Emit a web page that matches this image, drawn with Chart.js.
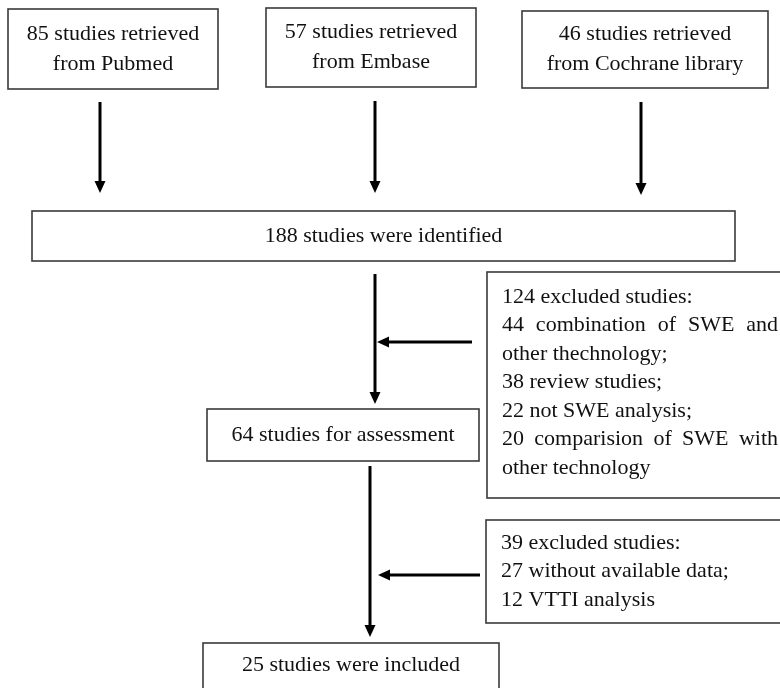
<!DOCTYPE html>
<html lang="en">
<head>
    <meta charset="UTF-8">
    <title>Study selection flow</title>
    <style>
        body { margin: 0; background: #fff; }
        #wrap { width: 780px; height: 688px; }
    </style>
    <script src="https://cdn.jsdelivr.net/npm/chart.js"></script>
</head>
<body>
    <div id="wrap"><canvas id="flow" width="780" height="688"></canvas></div>

    <script>
        // content of the flow diagram
        const sourceCounts = [85, 57, 46];
        const sourceNames = ['Pubmed', 'Embase', 'Cochrane library'];
        const identifiedCount = 188;
        const excluded1Total = 124;
        const excluded1Counts = [44, 38, 22, 20];
        const excluded1Reasons = ['combination of SWE and other thechnology', 'review studies', 'not SWE analysis', 'comparision of SWE with other technology'];
        const assessedCount = 64;
        const excluded2Total = 39;
        const excluded2Counts = [27, 12];
        const excluded2Reasons = ['without available data', 'VTTI analysis'];
        const includedCount = 25;

        // page layout (in canvas units, mapped through hidden linear scales)
        const layout = {
            sources: [[8, 9, 218, 89], [266, 8, 476, 87], [522, 11, 768, 88]],
            identified: [32, 211, 735, 261],
            assessed: [207, 409, 479, 461],
            excluded1: [487, 272, 800, 498],
            excluded2: [486, 520, 800, 623],
            included: [203, 643, 499, 720],
            arrows: [
                [100, 102, 100, 193], [375, 101, 375, 193], [641, 102, 641, 195],
                [375, 274, 375, 404], [472, 342, 377, 342],
                [370, 466, 370, 637], [480, 575, 378, 575]
            ]
        };

        const FONT = '22px "Liberation Serif", "Times New Roman", serif';

        function lines1() {
            // the long lines wrap like the original justified block
            return [
                { t: excluded1Total + ' excluded studies:' },
                { t: excluded1Counts[0] + ' combination of SWE and', j: true },
                { t: 'other thechnology;' },
                { t: excluded1Counts[1] + ' ' + excluded1Reasons[1] + ';' },
                { t: excluded1Counts[2] + ' ' + excluded1Reasons[2] + ';' },
                { t: excluded1Counts[3] + ' comparision of SWE with', j: true },
                { t: 'other technology' }
            ];
        }

        function lines2() {
            return [
                { t: excluded2Total + ' excluded studies:' },
                { t: excluded2Counts[0] + ' ' + excluded2Reasons[0] + ';' },
                { t: excluded2Counts[1] + ' ' + excluded2Reasons[1] }
            ];
        }

        const flowPlugin = {
            id: 'flow',
            afterDraw(chart) {
                const ctx = chart.ctx;
                const sx = chart.scales.x, sy = chart.scales.y;
                const px = v => sx.getPixelForValue(v);
                const py = v => sy.getPixelForValue(v);

                function box(b) {
                    ctx.save();
                    ctx.strokeStyle = '#3a3a3a';
                    ctx.lineWidth = 1.6;
                    ctx.strokeRect(px(b[0]), py(b[1]), px(b[2]) - px(b[0]), py(b[3]) - py(b[1]));
                    ctx.restore();
                }

                function centered(text, x, y) {
                    ctx.save();
                    ctx.font = FONT;
                    ctx.fillStyle = '#111';
                    ctx.textAlign = 'center';
                    ctx.textBaseline = 'middle';
                    ctx.fillText(text, px(x), py(y));
                    ctx.restore();
                }

                function block(lines, x, right, y0, step) {
                    ctx.save();
                    ctx.font = FONT;
                    ctx.fillStyle = '#111';
                    ctx.textAlign = 'left';
                    ctx.textBaseline = 'middle';
                    lines.forEach((ln, i) => {
                        const y = py(y0 + i * step);
                        if (!ln.j) {
                            ctx.fillText(ln.t, px(x), y);
                            return;
                        }
                        const words = ln.t.split(' ');
                        const wsum = words.reduce((s, w) => s + ctx.measureText(w).width, 0);
                        const gap = (px(right) - px(x) - wsum) / (words.length - 1);
                        let cx = px(x);
                        words.forEach(w => {
                            ctx.fillText(w, cx, y);
                            cx += ctx.measureText(w).width + gap;
                        });
                    });
                    ctx.restore();
                }

                function arrow(a) {
                    const x1 = px(a[0]), y1 = py(a[1]), x2 = px(a[2]), y2 = py(a[3]);
                    const ang = Math.atan2(y2 - y1, x2 - x1);
                    const len = 12, half = 5.5;
                    ctx.save();
                    ctx.strokeStyle = '#000';
                    ctx.fillStyle = '#000';
                    ctx.lineWidth = 3;
                    ctx.beginPath();
                    ctx.moveTo(x1, y1);
                    ctx.lineTo(x2 - Math.cos(ang) * len * 0.8, y2 - Math.sin(ang) * len * 0.8);
                    ctx.stroke();
                    ctx.beginPath();
                    ctx.moveTo(x2, y2);
                    ctx.lineTo(x2 - Math.cos(ang) * len - Math.sin(ang) * half, y2 - Math.sin(ang) * len + Math.cos(ang) * half);
                    ctx.lineTo(x2 - Math.cos(ang) * len + Math.sin(ang) * half, y2 - Math.sin(ang) * len - Math.cos(ang) * half);
                    ctx.closePath();
                    ctx.fill();
                    ctx.restore();
                }

                layout.sources.forEach((b, i) => {
                    box(b);
                    const cx = (b[0] + b[2]) / 2, cy = (b[1] + b[3]) / 2;
                    centered(sourceCounts[i] + ' studies retrieved', cx, cy - 15);
                    centered('from ' + sourceNames[i], cx, cy + 15);
                });

                let b = layout.identified;
                box(b);
                centered(identifiedCount + ' studies were identified', (b[0] + b[2]) / 2, (b[1] + b[3]) / 2);

                b = layout.assessed;
                box(b);
                centered(assessedCount + ' studies for assessment', (b[0] + b[2]) / 2, (b[1] + b[3]) / 2);

                b = layout.excluded1;
                box(b);
                block(lines1(), b[0] + 15, 778, b[1] + 25, 28.5);

                b = layout.excluded2;
                box(b);
                block(lines2(), b[0] + 15, 778, b[1] + 23, 28.5);

                b = layout.included;
                box(b);
                centered(includedCount + ' studies were included', (b[0] + b[2]) / 2, 665);

                layout.arrows.forEach(arrow);
            }
        };

        window.onload = function() {
            const ctx = document.getElementById('flow').getContext('2d');
            new Chart(ctx, {
                type: 'scatter',
                data: { datasets: [{ data: [] }] },
                options: {
                    responsive: false,
                    animation: false,
                    layout: { padding: 0 },
                    plugins: { legend: { display: false }, tooltip: { enabled: false } },
                    scales: {
                        x: { type: 'linear', min: 0, max: 780, display: false },
                        y: { type: 'linear', min: 0, max: 688, reverse: true, display: false }
                    }
                },
                plugins: [flowPlugin]
            });
        };
    </script>
</body>
</html>
